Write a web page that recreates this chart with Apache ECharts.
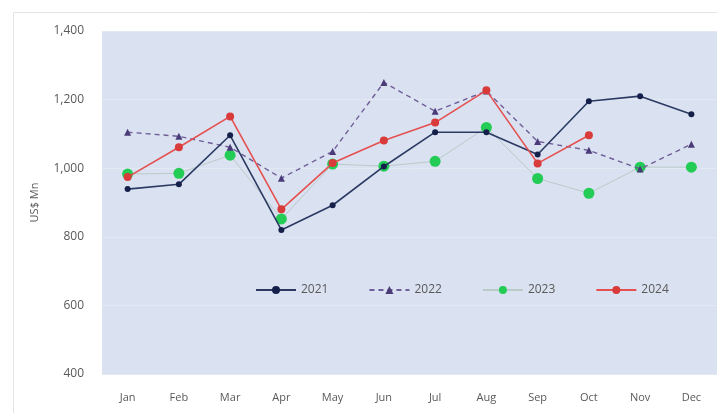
<!DOCTYPE html>
<html><head><meta charset="utf-8">
<script src="https://cdn.jsdelivr.net/npm/echarts@6/dist/echarts.min.js"></script>
<style>html,body{margin:0;padding:0;background:#fff}#c{width:717px;height:413px}</style>
</head><body><div id="c"></div>
<script>
const months = ['Jan','Feb','Mar','Apr','May','Jun','Jul','Aug','Sep','Oct','Nov','Dec'];
const y2021 = [939, 953, 1096, 820, 892, 1005, 1105, 1105, 1040, 1195, 1210, 1157];
const y2022 = [1105, 1093, 1061, 971, 1049, 1250, 1166, 1225, 1078, 1052, 998, 1070];
const y2023 = [983, 985, 1038, 852, 1012, 1006, 1020, 1119, 970, 927, 1003, 1003];
const y2024 = [974, 1061, 1151, 880, 1015, 1081, 1133, 1227, 1014, 1096];
const yTicks = [400, 600, 800, 1000, 1200, 1400];

const chart = echarts.init(document.getElementById('c'));
const txt = '#595959';
chart.setOption({
  animation: false,
  graphic: [{type:'rect', shape:{x:13.5,y:12.5,width:710,height:410}, style:{fill:'none', stroke:'#e4e4e4', lineWidth:1}, z:-10}],
  grid: {left: 102, right: -4, top: 31, bottom: 39, show: true, backgroundColor: '#dae1f0', borderWidth: 0},
  legend: {
    data: ['2021','2022','2023','2024'],
    left: 250, top: 279, itemGap: 40, itemWidth: 40, itemHeight: 10,
    textStyle: {color: txt, fontSize: 12, fontFamily: 'Open Sans'}
  },
  xAxis: {
    type: 'category', data: months, boundaryGap: true,
    axisLine: {show: false}, axisTick: {show: false},
    axisLabel: {color: txt, fontSize: 11, margin: 18, fontFamily: 'Open Sans'}
  },
  yAxis: {
    type: 'value', min: yTicks[0], max: yTicks[yTicks.length-1], interval: 200,
    name: 'US$ Mn', nameLocation: 'middle', nameGap: 62, nameRotate: 90,
    nameTextStyle: {color: txt, fontSize: 11, fontFamily: 'Open Sans'},
    axisLine: {show: false}, axisTick: {show: false},
    axisLabel: {color: txt, fontSize: 12, margin: 18, fontFamily: 'Open Sans',
      formatter: v => v.toLocaleString('en-US')},
    splitLine: {lineStyle: {color: '#e3e9f3', width: 1}}
  },
  series: [
    {name:'2021', type:'line', data:y2021, symbol:'circle', symbolSize:6,
     lineStyle:{color:'#2b3a63', width:1.6}, itemStyle:{color:'#15204a'}, z:3},
    {name:'2022', type:'line', data:y2022, symbol:'triangle', symbolSize:7,
     lineStyle:{color:'#6f5e9a', width:1.4, type:[5,4]}, itemStyle:{color:'#4a3a78'}, z:2},
    {name:'2023', type:'line', data:y2023, symbol:'circle', symbolSize:11,
     lineStyle:{color:'#b9cbc8', width:1}, itemStyle:{color:'#22cc55'}, z:1},
    {name:'2024', type:'line', data:y2024, symbol:'circle', symbolSize:8,
     lineStyle:{color:'#e55050', width:1.6}, itemStyle:{color:'#d93a3a'}, z:4}
  ]
});
</script></body></html>
